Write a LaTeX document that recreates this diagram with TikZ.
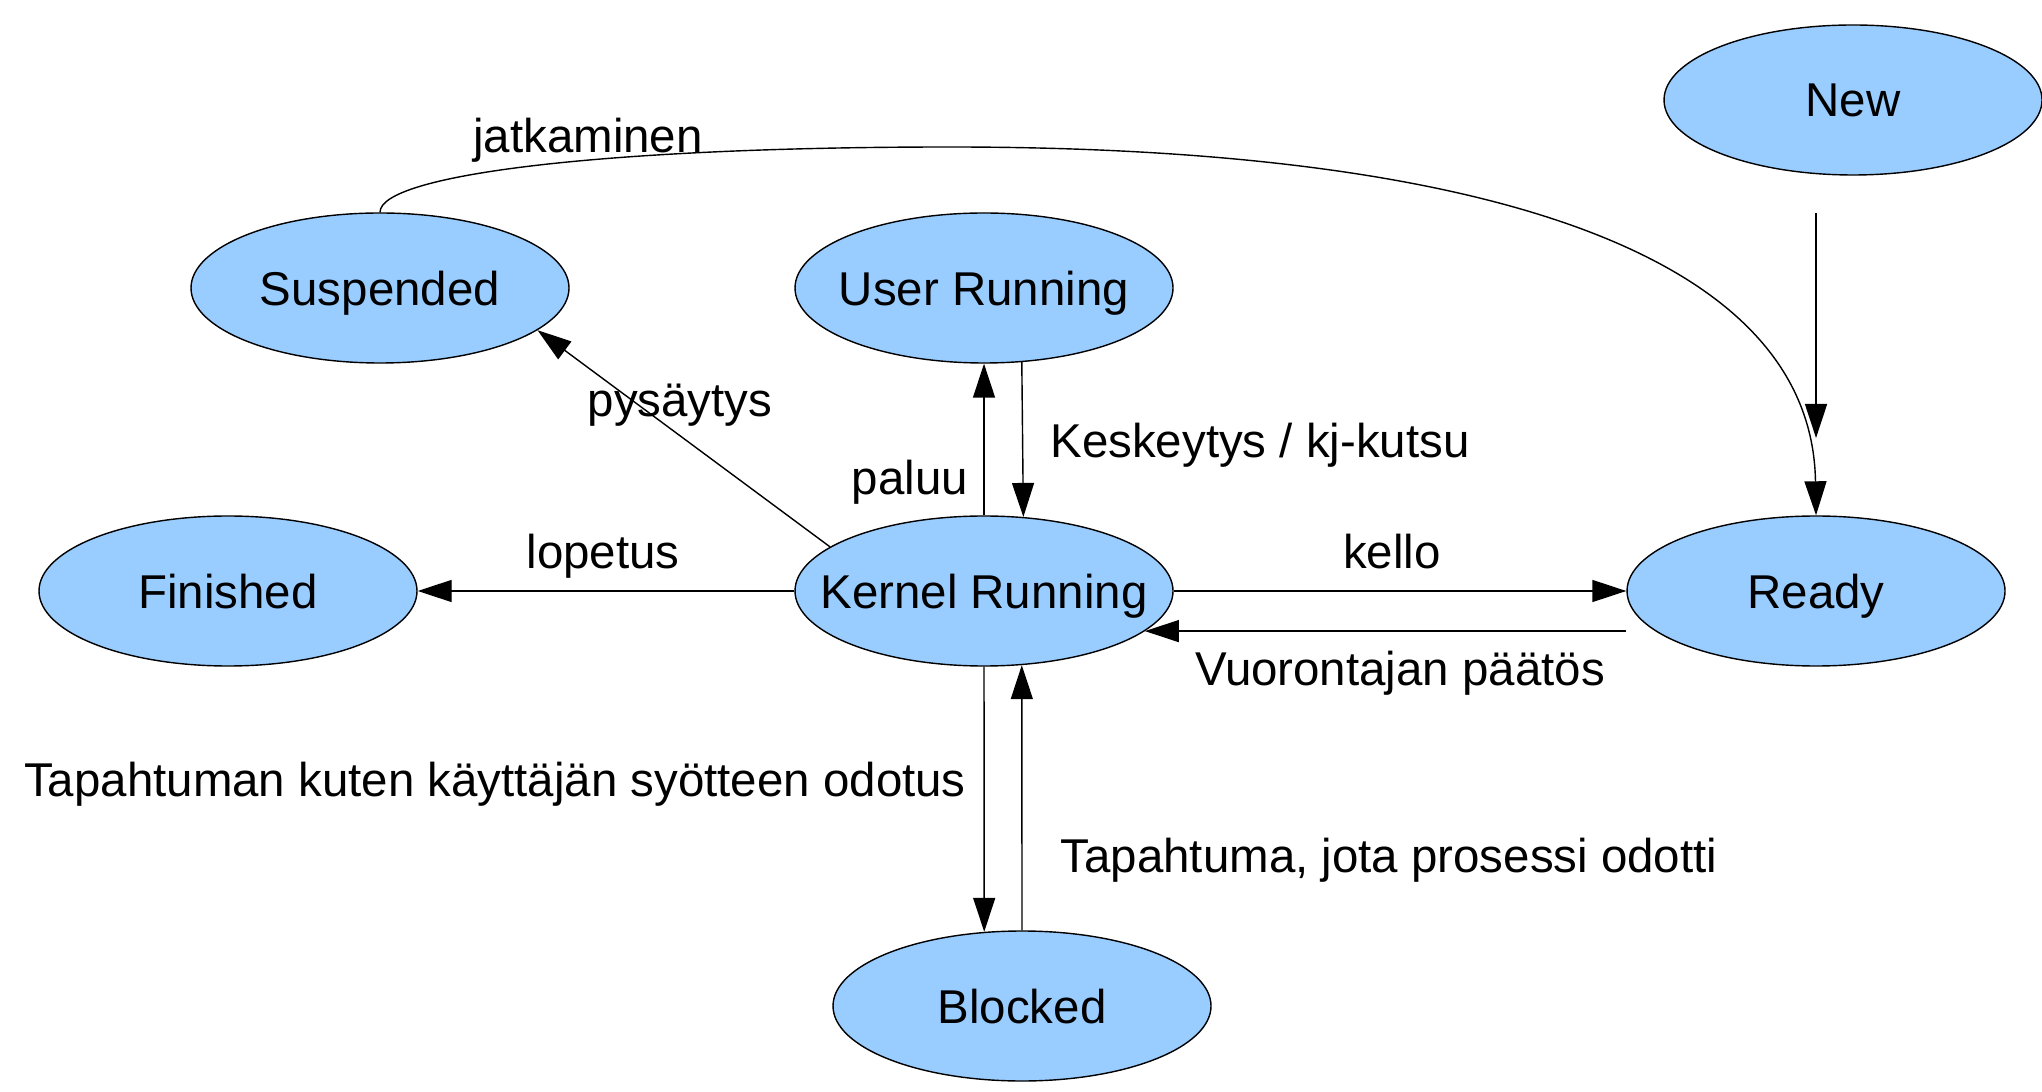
\documentclass[tikz,border=0pt]{standalone}
\usepackage{fontspec}
\setmainfont{Liberation Sans}
\usepackage{xcolor}
\usepackage{tikz}
\usetikzlibrary{shapes.geometric,arrows.meta}
\definecolor{stateblue}{RGB}{153,204,255}

\begin{document}
\begin{tikzpicture}[
    state/.style={ellipse,draw,fill=stateblue,line width=0.4pt,text depth=0pt,
      minimum width=3.78cm,minimum height=1.5cm,inner xsep=-4mm,inner ysep=0pt},
    trans/.style={-{Triangle[length=3.4mm,width=2.2mm]},line width=0.4pt},
    lbl/.style={text depth=0pt},
    font=\fontsize{13.5}{16}\selectfont]
      \useasboundingbox (0,0) rectangle (20.42,10.91);
      % states
      \node[state] (new)  at (18.53,9.91) {New};
      \node[state] (susp) at (3.80,8.03)  {Suspended};
      \node[state] (ur)   at (9.84,8.03)  {User Running};
      \node[state] (fin)  at (2.28,5.00)  {Finished};
      \node[state] (kr)   at (9.84,5.00)  {Kernel Running};
      \node[state] (rd)   at (18.16,5.00) {Ready};
      \node[state] (bl)   at (10.22,0.85) {Blocked};
      \coordinate (newout) at (18.16,8.78);
      \coordinate (newin)  at (18.16,6.53);
      % transitions
      \draw[trans] (newout) -- (newin);
      \draw[trans] (susp.north) .. controls (3.80,9.16) and (6.00,9.44) .. (9.50,9.44)
                   .. controls (15.00,9.44) and (18.12,8.31) .. (rd.north);
      \draw[trans] (kr.164.7) -- (susp.345.5);
      \draw[trans] (kr.north) -- (ur.south);
      \draw[trans] (ur.297.3) -- (kr.62.7);
      \draw[trans] (kr.west) -- (fin.east);
      \draw[trans] (kr.east) -- (rd.west);
      \draw[trans] (rd.west |- kr.346.9) -- (kr.346.9);
      \draw[trans] (kr.south) -- (bl.117.3);
      \draw[trans] (bl.north) -- (kr.297.3);
      % labels
      \node[lbl] (ljat)  at (5.88,9.56)  {jatkaminen};
      \node[lbl] (lpys)  at (6.80,6.91)  {pysäytys};
      \node[lbl] (lpal)  at (9.10,6.14)  {paluu};
      \node[lbl,anchor=west] (lkes) at (10.38,6.51) {Keskeytys / kj-kutsu};
      \node[lbl] (llop)  at (6.03,5.40)  {lopetus};
      \node[lbl] (lkel)  at (13.92,5.40) {kello};
      \node[lbl] (lvuo)  at (14.00,4.23) {Vuorontajan päätös};
      \node[lbl] (lodo)  at (4.95,3.12)  {Tapahtuman kuten käyttäjän syötteen odotus};
      \node[lbl] (ltap)  at (13.89,2.36) {Tapahtuma, jota prosessi odotti};
\end{tikzpicture}
\end{document}
